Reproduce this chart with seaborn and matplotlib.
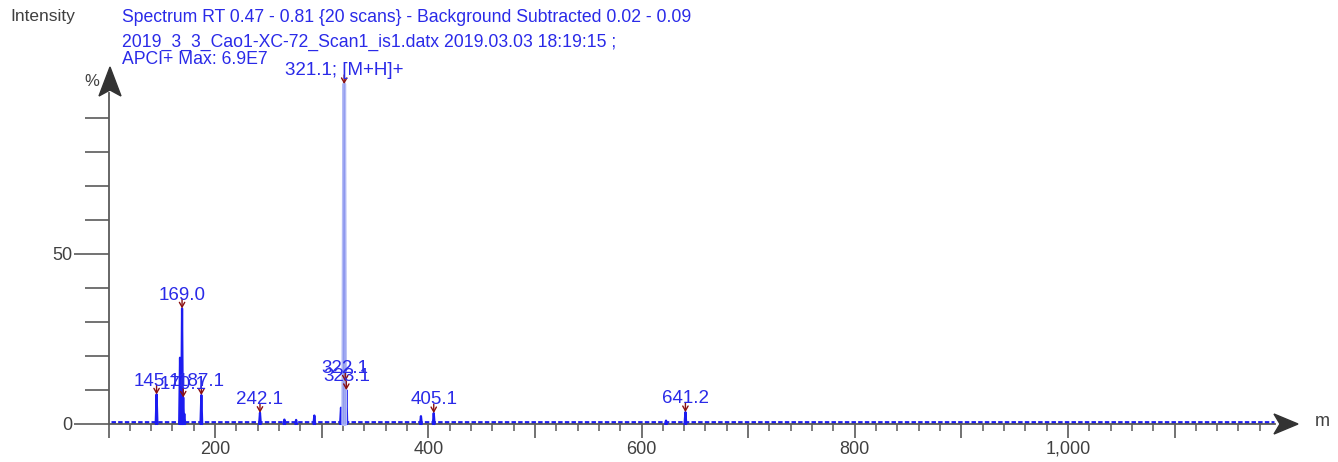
import numpy as np
import pandas as pd
import matplotlib
matplotlib.use("Agg")
import matplotlib.pyplot as plt
import matplotlib.ticker as mticker
import seaborn as sns

# ---------------- data ----------------
peak_mz = [145.1, 167.1, 168.1, 169.0, 170.1, 171.1, 187.1, 242.1, 265.0, 276.0,
           293.1, 318.1, 322.1, 323.1, 393.1, 405.1, 623.0, 641.2]
peak_int = [8.7, 19.5, 6.0, 34.0, 7.8, 3.0, 8.5, 3.3, 1.3, 1.2,
            2.5, 4.8, 12.5, 10.0, 2.3, 3.2, 1.0, 3.5]
base_peak_mz = 321.1
base_peak_int = 100.0

label_mz = [145.1, 170.1, 187.1, 169.0, 242.1, 322.1, 323.1, 321.1, 405.1, 641.2]
label_int = [8.7, 7.8, 8.5, 34.0, 3.3, 12.5, 10.0, 100.0, 3.2, 3.5]
label_text = ["145.1", "170.1", "187.1", "169.0", "242.1", "322.1", "323.1",
              "321.1; [M+H]+", "405.1", "641.2"]

x_ticks = [200, 400, 600, 800, 1000]
y_ticks = [0, 50]

header_lines = ["Spectrum RT 0.47 - 0.81 {20 scans} - Background Subtracted 0.02 - 0.09",
                "2019_3_3_Cao1-XC-72_Scan1_is1.datx 2019.03.03 18:19:15 ;",
                "APCI+ Max: 6.9E7"]

# ---------------- style ----------------
sns.set_theme(style="white")
plt.rcParams['font.family'] = ['Liberation Sans', 'DejaVu Sans']

BLUE = "#1c1cf0"
TXT_BLUE = "#2a2ae8"
AXC = "#5a5a5a"
TICKTXT = "#404040"
ARROWRED = "#8b1010"

W, H = 1338, 462
fig = plt.figure(figsize=(W / 100, H / 100), dpi=100)

px_per_unit = 1.066
x0_px = 108.5
xmin, xmax = 100, 1194
y0_px = 424
px_per_pct = 3.4
ymax = 97.4
ax_w = (xmax - xmin) * px_per_unit
ax_h = ymax * px_per_pct
ax = fig.add_axes([x0_px / W, (H - y0_px) / H, ax_w / W, ax_h / H])
ax.patch.set_alpha(0)

# build stick profile (triangles) for minor peaks
hw = 0.8
rows = []
for i, (m, h) in enumerate(zip(peak_mz, peak_int)):
    rows.append({"mz": m - hw, "int": 0.0, "pk": i})
    rows.append({"mz": m, "int": h, "pk": i})
    rows.append({"mz": m + hw, "int": 0.0, "pk": i})
df = pd.DataFrame(rows)

# baseline noise appearance (styled line)
ax.plot([xmin + 2, xmax - 1], [0.45, 0.45], color=BLUE, lw=2.0,
        dashes=(1.6, 0.8), zorder=2, clip_on=False)

sns.lineplot(data=df, x="mz", y="int", units="pk", estimator=None, sort=False,
             color=BLUE, lw=1.6, ax=ax, zorder=3, legend=False)

# base peak (drawn light, as in reference)
bp = pd.DataFrame({"mz": [base_peak_mz - 0.9, base_peak_mz, base_peak_mz + 0.9],
                   "int": [0, base_peak_int, 0]})
sns.lineplot(data=bp, x="mz", y="int", estimator=None, sort=False,
             color="#b4bcf6", lw=2.8, ax=ax, zorder=4)
sns.lineplot(data=bp, x="mz", y="int", estimator=None, sort=False,
             color="#8e98ee", lw=0.8, ax=ax, zorder=4)
for ln in ax.lines:
    ln.set_clip_on(False)

ax.set_xlim(xmin, xmax)
ax.set_ylim(0, ymax)
ax.set_xlabel("")
ax.set_ylabel("")

# peak labels with small red arrows
for m, h, t in zip(label_mz, label_int, label_text):
    ax.annotate("", xy=(m, h), xytext=(0, 6.5), textcoords="offset points",
                arrowprops=dict(arrowstyle="->,head_length=0.28,head_width=0.16",
                                color=ARROWRED, lw=1.0, shrinkA=0, shrinkB=0),
                zorder=6, annotation_clip=False)
    ax.annotate(t, xy=(m, h), xytext=(0, 3.5), textcoords="offset points",
                ha="center", va="bottom", color=TXT_BLUE, fontsize=13.5,
                zorder=7, annotation_clip=False)

# spines
for s in ["top", "right"]:
    ax.spines[s].set_visible(False)
for s in ["left", "bottom"]:
    ax.spines[s].set_color(AXC)
    ax.spines[s].set_linewidth(1.3)

# x ticks
ax.xaxis.set_major_locator(mticker.MultipleLocator(100))
ax.xaxis.set_minor_locator(mticker.MultipleLocator(20))
ax.xaxis.set_major_formatter(mticker.FuncFormatter(
    lambda v, p: f"{int(v):,}" if int(round(v)) in x_ticks else ""))
ax.tick_params(axis="x", which="major", direction="out", length=10, width=1.2,
               color=AXC, labelcolor=TICKTXT, labelsize=13, pad=2, bottom=True)
ax.tick_params(axis="x", which="minor", direction="out", length=5, width=1.1,
               color=AXC, bottom=True)

# y ticks
ax.yaxis.set_major_locator(mticker.FixedLocator(y_ticks))
ax.yaxis.set_minor_locator(mticker.FixedLocator([10, 20, 30, 40, 60, 70, 80, 90]))
ax.tick_params(axis="y", which="major", direction="out", length=25, width=1.2,
               color=AXC, labelcolor=TICKTXT, labelsize=13, pad=1, left=True)
ax.tick_params(axis="y", which="minor", direction="out", length=17, width=1.2,
               color=AXC, left=True)

# axis arrows
fig.patches.append(matplotlib.patches.Polygon(
    [[1274 / W, (H - 414) / H], [1298 / W, (H - 424) / H], [1274 / W, (H - 434) / H],
     [1280 / W, (H - 424) / H]],
    closed=True, transform=fig.transFigure, color="#333333", zorder=10))
fig.patches.append(matplotlib.patches.Polygon(
    [[99 / W, (H - 96) / H], [110 / W, (H - 67) / H], [121 / W, (H - 96) / H],
     [110 / W, (H - 90) / H]],
    closed=True, transform=fig.transFigure, color="#333333", zorder=10))

# texts
fig.text(10 / W, 1 - 16 / H, "Intensity", color="#404040", fontsize=12.5,
         ha="left", va="center")
fig.text(122 / W, 1 - 17 / H, header_lines[0], color=TXT_BLUE, fontsize=12.7,
         ha="left", va="center")
fig.text(122 / W, 1 - 42 / H, header_lines[1], color=TXT_BLUE, fontsize=12.7,
         ha="left", va="center")
fig.text(122 / W, 1 - 59 / H, header_lines[2], color=TXT_BLUE, fontsize=12.7,
         ha="left", va="center")
fig.text(84 / W, 1 - 82 / H, "%", color="#404040", fontsize=12,
         ha="left", va="center")
fig.text(1315 / W, 1 - 421 / H, "m", color="#404040", fontsize=13,
         ha="left", va="center")

fig.savefig("out.png", dpi=100, facecolor="white")
